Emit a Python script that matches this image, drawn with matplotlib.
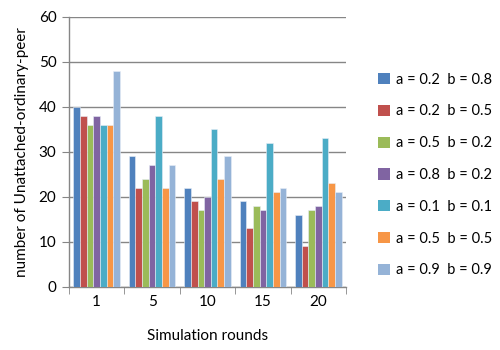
import numpy as np
import matplotlib.pyplot as plt
from matplotlib.patches import Patch

plt.rcParams['font.family'] = ['Lato', 'DejaVu Sans']

# Rounds of simulation and the parameter settings tested
rounds = ['1', '5', '10', '15', '20']
settings = ['a = 0.2  b = 0.8', 'a = 0.2  b = 0.5', 'a = 0.5  b = 0.2',
            'a = 0.8  b = 0.2', 'a = 0.1  b = 0.1', 'a = 0.5  b = 0.5',
            'a = 0.9  b = 0.9']

# Unattached ordinary peers per setting, one list per round
r1 = [40, 38, 36, 38, 36, 36, 48]
r5 = [29, 22, 24, 27, 38, 22, 27]
r10 = [22, 19, 17, 20, 35, 24, 29]
r15 = [19, 13, 18, 17, 32, 21, 22]
r20 = [16, 9, 17, 18, 33, 23, 21]

colors = ['#4F81BD', '#C0504D', '#9BBB59', '#8064A2', '#4BACC6', '#F79646', '#95B3D7']

vals = np.array([r1, r5, r10, r15, r20])
x = np.arange(len(rounds))
w = 0.12

fig = plt.figure(figsize=(5, 3.5), dpi=100)
ax = fig.add_axes([0.138, 0.18, 0.554, 0.772])

for j in range(len(settings)):
    ax.bar(x + (j - 3) * w, vals[:, j], w, color=colors[j],
           edgecolor='#e8eef7', linewidth=0.4, zorder=3)

ax.set_ylim(0, 60)
ax.set_yticks(range(0, 61, 10))
ax.set_xlim(-0.5, len(rounds) - 0.5)
ax.set_xticks(x)
ax.set_xticklabels(rounds)
ax.set_xticks(np.arange(-0.5, len(rounds)), minor=True)
ax.tick_params(axis='x', which='major', length=0, pad=6, labelsize=11)
ax.tick_params(axis='x', which='minor', length=5, color='#868686')
ax.tick_params(axis='y', length=5, color='#868686', labelsize=11, pad=4)
ax.yaxis.grid(True, color='#868686', linewidth=1.0, zorder=0)

for s in ['top', 'right']:
    ax.spines[s].set_visible(False)
for s in ['left', 'bottom']:
    ax.spines[s].set_color('#868686')
    ax.spines[s].set_linewidth(1.0)

ax.set_xlabel('Simulation rounds', fontsize=11, labelpad=14)
ax.set_ylabel('number of Unattached-ordinary-peer', fontsize=11, labelpad=7)

handles = [Patch(facecolor=c, edgecolor='none') for c in colors]
fig.legend(handles, settings, loc='upper left', bbox_to_anchor=(0.73, 0.83),
           frameon=False, fontsize=10.5, handlelength=0.8, handleheight=0.8,
           handletextpad=0.4, labelspacing=1.22)

fig.savefig('out.png', dpi=100)
